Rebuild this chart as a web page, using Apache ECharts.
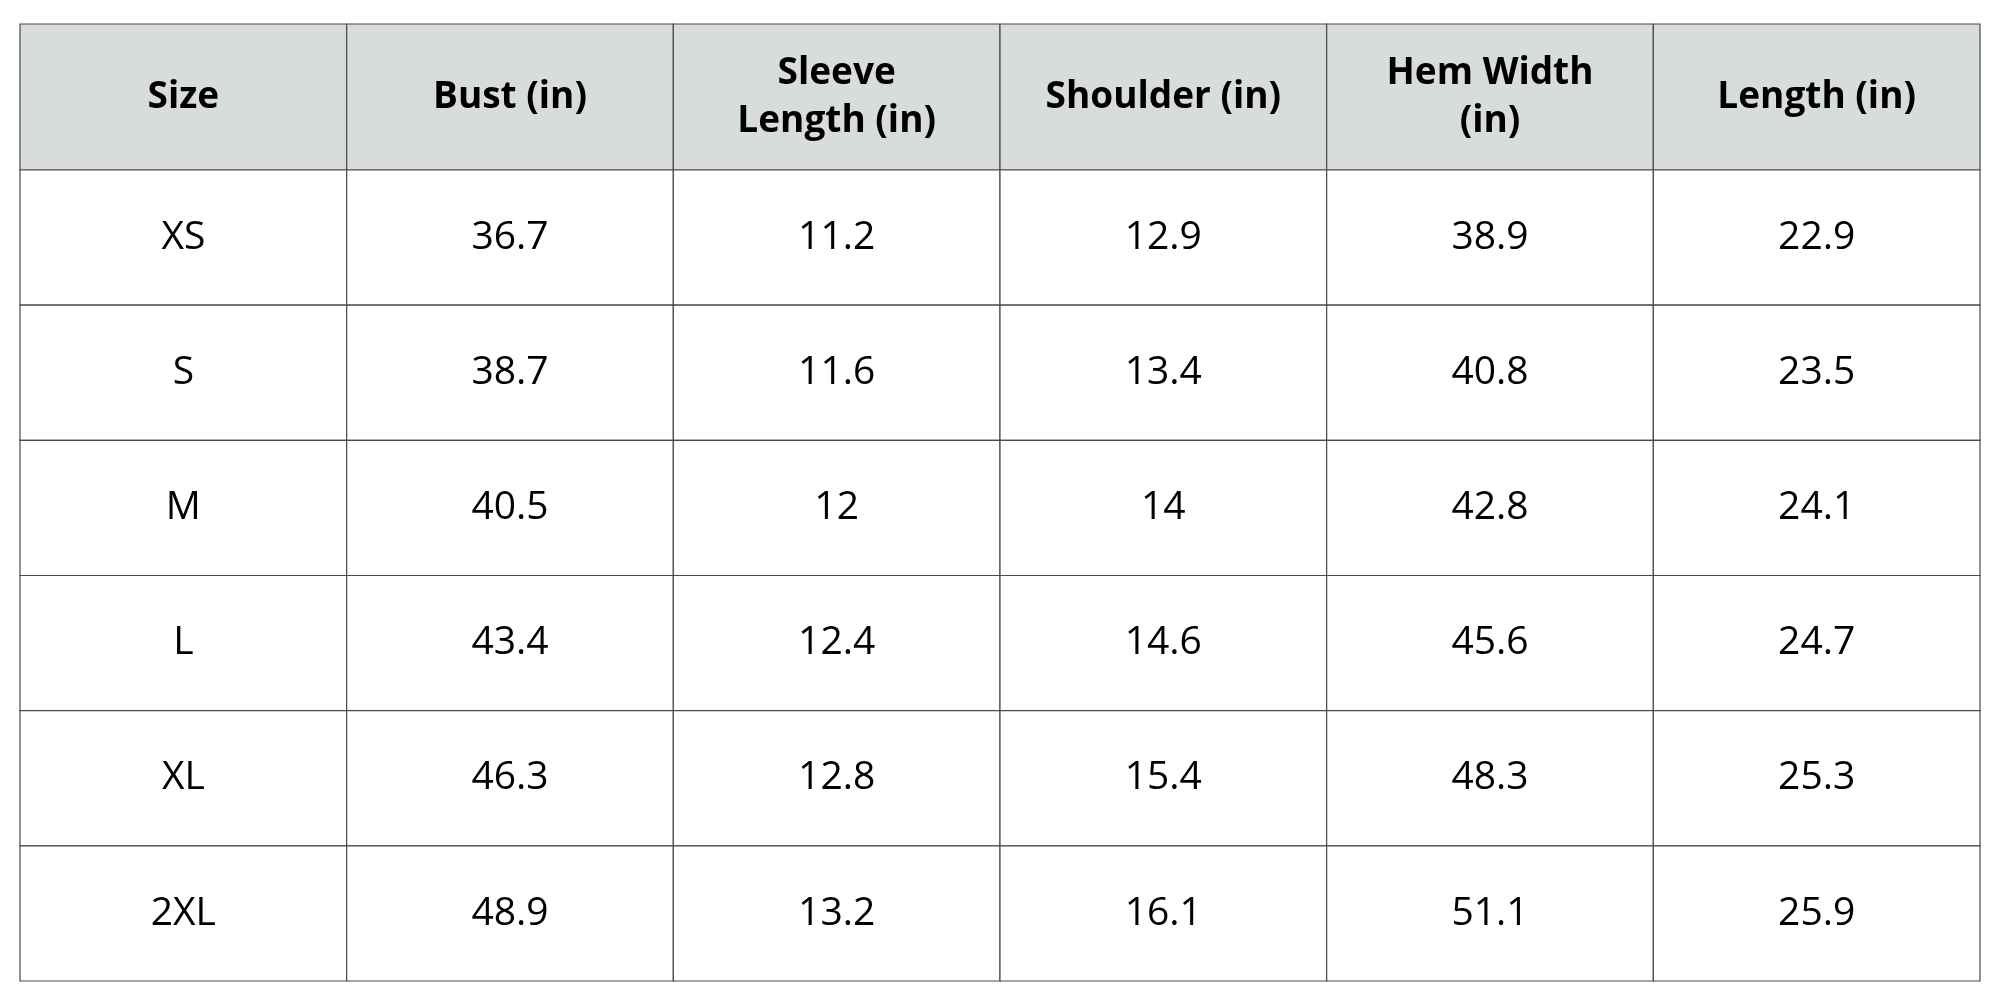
<!DOCTYPE html>
<html><head><meta charset="utf-8">
<script src="https://cdn.jsdelivr.net/npm/echarts@6/dist/echarts.min.js"></script>
<style>html,body{margin:0;background:#fff}#chart{width:2000px;height:1000px}</style>
</head><body><div id="chart"></div>
<script>
const headers = ["Size", "Bust (in)", "Sleeve\nLength (in)", "Shoulder (in)", "Hem Width\n(in)", "Length (in)"];
const sizes = ["XS", "S", "M", "L", "XL", "2XL"];
const bust = ["36.7", "38.7", "40.5", "43.4", "46.3", "48.9"];
const sleeve = ["11.2", "11.6", "12", "12.4", "12.8", "13.2"];
const shoulder = ["12.9", "13.4", "14", "14.6", "15.4", "16.1"];
const hem = ["38.9", "40.8", "42.8", "45.6", "48.3", "51.1"];
const length = ["22.9", "23.5", "24.1", "24.7", "25.3", "25.9"];

const columns = [sizes, bust, sleeve, shoulder, hem, length];
const HEAD = 1.08; // header row height in row units
const total = sizes.length + HEAD;

const data = [];
headers.forEach((h, c) => data.push([c, -1, h]));
sizes.forEach((_, r) => columns.forEach((col, c) => data.push([c, r, col[r]])));

function renderItem(params, api) {
  const c = api.value(0), r = api.value(1);
  const y0 = r < 0 ? 0 : HEAD + r;
  const y1 = r < 0 ? HEAD : HEAD + r + 1;
  const p0 = api.coord([c, total - y0]);
  const p1 = api.coord([c + 1, total - y1]);
  const head = r < 0;
  return {
    type: 'group',
    children: [{
      type: 'rect',
      shape: { x: p0[0], y: p0[1], width: p1[0] - p0[0], height: p1[1] - p0[1] },
      style: { fill: head ? '#d9dcdd' : '#ffffff', stroke: '#4a4a4a', lineWidth: 1.2 }
    }, {
      type: 'text',
      style: {
        x: (p0[0] + p1[0]) / 2, y: (p0[1] + p1[1]) / 2,
        text: data[params.dataIndex][2],
        align: 'center', verticalAlign: 'middle',
        fontFamily: 'Open Sans', fontSize: head ? 37 : 39,
        fontWeight: head ? 'bold' : 'normal', lineHeight: 48, fill: '#000'
      }
    }]
  };
}

const chart = echarts.init(document.getElementById('chart'));
chart.setOption({
  animation: false,
  grid: { left: 20, right: 20, top: 24, bottom: 19 },
  xAxis: { type: 'value', min: 0, max: headers.length, show: false },
  yAxis: { type: 'value', min: 0, max: total, show: false },
  series: [{ type: 'custom', renderItem, data, encode: { x: 0, y: 1 } }]
});
</script></body></html>
